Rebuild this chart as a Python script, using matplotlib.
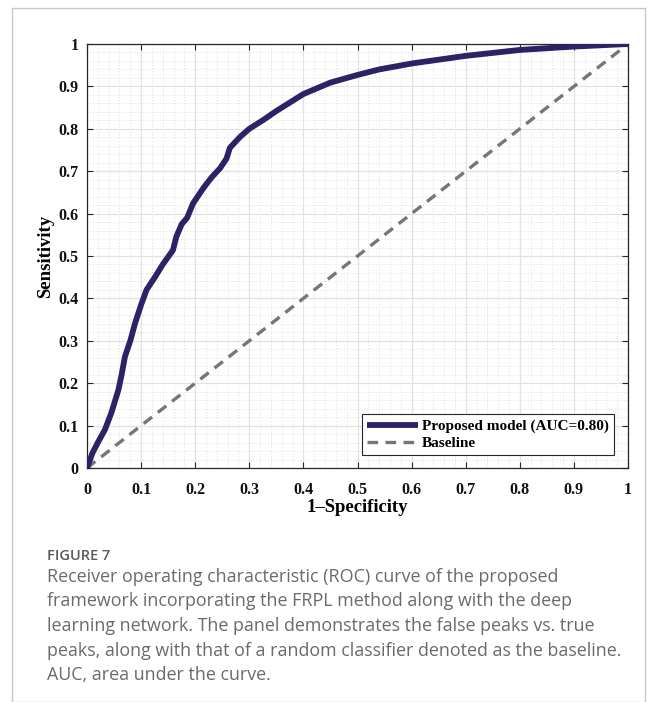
import matplotlib
matplotlib.use("Agg")
import matplotlib.pyplot as plt
from matplotlib.patches import Rectangle
from matplotlib.ticker import MultipleLocator, FuncFormatter

# ROC curve
fpr = [0, 0.01, 0.02, 0.033, 0.045, 0.058, 0.064, 0.07, 0.08, 0.089, 0.1, 0.11,
       0.126, 0.14, 0.159, 0.165, 0.175, 0.185, 0.196, 0.215, 0.23, 0.246, 0.258,
       0.264, 0.283, 0.30, 0.326, 0.35, 0.375, 0.40, 0.45, 0.50, 0.54, 0.60,
       0.70, 0.80, 0.90, 1.0]
tpr = [0, 0.035, 0.06, 0.09, 0.13, 0.184, 0.22, 0.262, 0.30, 0.342, 0.385, 0.42,
       0.451, 0.48, 0.514, 0.545, 0.575, 0.59, 0.624, 0.66, 0.685, 0.707, 0.73,
       0.755, 0.781, 0.80, 0.821, 0.842, 0.862, 0.882, 0.909, 0.927, 0.94, 0.954,
       0.972, 0.986, 0.994, 1.0]
baseline = [0, 1]

model_label = "Proposed model (AUC=0.80)"
base_label = "Baseline"
x_label = "1\u2013Specificity"
y_label = "Sensitivity"

fig_title = "FIGURE 7"
caption = [
    "Receiver operating characteristic (ROC) curve of the proposed",
    "framework incorporating the FRPL method along with the deep",
    "learning network. The panel demonstrates the false peaks vs. true",
    "peaks, along with that of a random classifier denoted as the baseline.",
    "AUC, area under the curve.",
]

W, H = 656, 702
fig = plt.figure(figsize=(W / 100, H / 100), dpi=100)

# outer page frame
fig.patches.append(Rectangle((12 / W, 0), 633 / W, 1 - 8 / H, transform=fig.transFigure,
                             fill=False, edgecolor="#c8c8c8", linewidth=1.0))

ax = fig.add_axes([87 / W, 1 - 468 / H, 541 / W, 424 / H])

ax.plot(baseline, baseline, linestyle=(0, (3.2, 2.2)), color="#7a7478", linewidth=2.4,
        label=base_label, zorder=3)
ax.plot(fpr, tpr, color="#2a2366", linewidth=4.2, solid_capstyle="round",
        solid_joinstyle="round", label=model_label, zorder=4)

ax.set_xlim(0, 1)
ax.set_ylim(0, 1)
ax.xaxis.set_major_locator(MultipleLocator(0.1))
ax.yaxis.set_major_locator(MultipleLocator(0.1))
ax.xaxis.set_minor_locator(MultipleLocator(0.02))
ax.yaxis.set_minor_locator(MultipleLocator(0.02))
fmt = FuncFormatter(lambda v, p: "%g" % round(v, 2))
ax.xaxis.set_major_formatter(fmt)
ax.yaxis.set_major_formatter(fmt)

ax.grid(which="major", color="#e2e2e2", linewidth=0.9, linestyle="-")
ax.grid(which="minor", color="#d4d4d4", linewidth=0.6, linestyle=(0, (1, 2.5)))
ax.set_axisbelow(True)

ax.tick_params(which="major", direction="in", length=4.5, width=0.8, color="#262626",
               top=True, right=True)
ax.tick_params(axis="x", which="major", pad=10)
ax.tick_params(axis="y", which="major", pad=6)
ax.tick_params(which="minor", length=0)
for s in ax.spines.values():
    s.set_color("#262626")
    s.set_linewidth(0.9)

serif = "Liberation Serif"
for lab in ax.get_xticklabels() + ax.get_yticklabels():
    lab.set_fontfamily(serif)
    lab.set_fontweight("bold")
    lab.set_fontsize(11.5)
    lab.set_color("#111111")

ax.set_xlabel(x_label, fontfamily=serif, fontweight="bold", fontsize=13.5, labelpad=1)
ax.set_ylabel(y_label, fontfamily=serif, fontweight="bold", fontsize=13.5, labelpad=3)

h, l = ax.get_legend_handles_labels()
leg = ax.legend(h[::-1], l[::-1], loc="lower right", bbox_to_anchor=(0.975, 0.03),
                prop={"family": serif, "weight": "bold", "size": 11}, handlelength=3.3,
                handletextpad=0.3, borderpad=0.35, labelspacing=0.2, fancybox=False,
                framealpha=1, edgecolor="#262626", borderaxespad=0)
leg.get_frame().set_linewidth(0.8)
for ln in leg.get_lines():
    ln.set_solid_capstyle("butt")

fig.text(47 / W, 1 - 556 / H, fig_title, fontfamily="Open Sans", fontsize=10.5,
         color="#5a5a5a", va="center", ha="left", fontweight="semibold")
for i, line in enumerate(caption):
    fig.text(47 / W, 1 - (577 + 24.5 * i) / H, line, fontfamily="Open Sans",
             fontsize=12.9, color="#6a6a6a", va="center", ha="left")

fig.savefig("out.png", dpi=100)
